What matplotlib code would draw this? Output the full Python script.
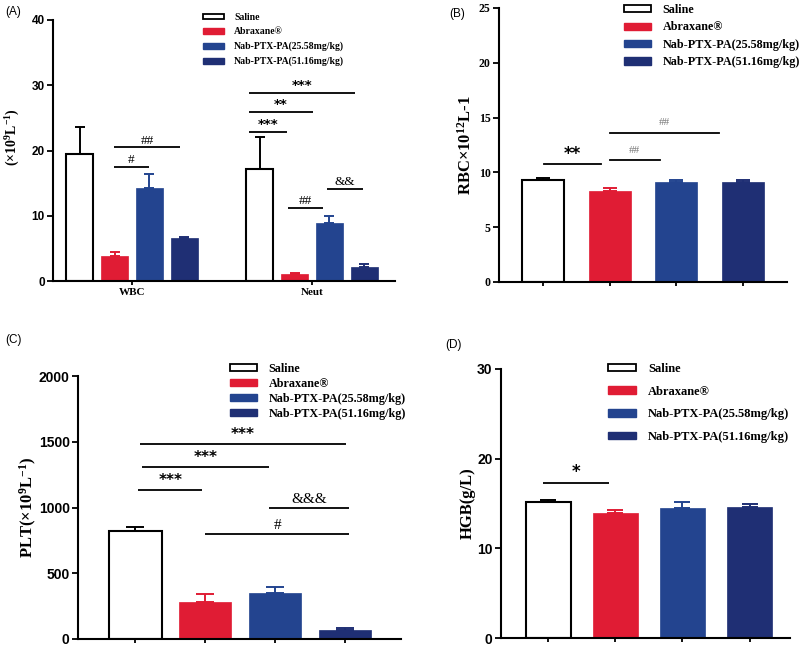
import matplotlib
matplotlib.use("Agg")
import matplotlib.pyplot as plt
from matplotlib.patches import Patch
import numpy as np

plt.rcParams["mathtext.fontset"] = "custom"
plt.rcParams["mathtext.rm"] = "Liberation Serif:bold"
plt.rcParams["mathtext.it"] = "Liberation Serif:bold"
plt.rcParams["mathtext.bf"] = "Liberation Serif:bold"
plt.rcParams["mathtext.default"] = "rm"

# ---------------- data ----------------
groups = ["Saline", "Abraxane®", "Nab-PTX-PA(25.58mg/kg)", "Nab-PTX-PA(51.16mg/kg)"]
colors = ["white", "#e01c34", "#23448f", "#1f2f74"]

# Panel A (WBC, Neut)
a_categories = ["WBC", "Neut"]
a_mean = {"Saline": [19.5, 17.1], "Abraxane®": [3.9, 1.0],
          "Nab-PTX-PA(25.58mg/kg)": [14.2, 8.9], "Nab-PTX-PA(51.16mg/kg)": [6.6, 2.2]}
a_err = {"Saline": [4.1, 4.9], "Abraxane®": [0.5, 0.2],
         "Nab-PTX-PA(25.58mg/kg)": [2.2, 1.0], "Nab-PTX-PA(51.16mg/kg)": [0.2, 0.4]}
a_yticks = [0, 10, 20, 30, 40]
a_sig = [(-0.10, 0.094, 17.5, "#"), (-0.10, 0.267, 20.5, "##"),
         (0.65, 0.861, 22.9, "***"), (0.65, 1.006, 25.9, "**"), (0.65, 1.239, 28.8, "***"),
         (0.867, 1.061, 11.2, "##"), (1.083, 1.283, 14.1, "&&")]

# Panel B (RBC)
b_mean = [9.3, 8.3, 9.15, 9.15]
b_err = [0.2, 0.3, 0.2, 0.2]
b_yticks = [0, 5, 10, 15, 20, 25]
b_sig = [(0.015, 0.87, 10.77, "**"), (1.0, 1.75, 11.1, "##"), (1.0, 2.64, 13.6, "##")]

# Panel C (PLT)
c_mean = [825, 285, 350, 65]
c_err = [25, 55, 48, 20]
c_yticks = [0, 500, 1000, 1500, 2000]
c_sig = [(0.04, 0.96, 1132, "***"), (0.10, 1.91, 1307, "***"), (0.06, 3.01, 1482, "***"),
         (1.91, 3.06, 995, "&&&"), (1.0, 3.06, 798, "#")]

# Panel D (HGB)
d_mean = [15.2, 13.9, 14.5, 14.6]
d_err = [0.2, 0.4, 0.7, 0.3]
d_yticks = [0, 10, 20, 30]
d_sig = [(-0.07, 0.91, 17.3, "*")]

W, H = 800, 647
fig = plt.figure(figsize=(W / 100, H / 100), dpi=100)

SERIF = "Liberation Serif"
SANS = "Liberation Sans"


def add_ax(l, t, r, b):
    return fig.add_axes([l / W, 1 - b / H, (r - l) / W, (b - t) / H])


def style(ax, yticks, tickfont, ticksize):
    for s in ["top", "right"]:
        ax.spines[s].set_visible(False)
    for s in ["left", "bottom"]:
        ax.spines[s].set_linewidth(1.5)
    ax.set_ylim(yticks[0], yticks[-1])
    ax.set_yticks(yticks, labels=[str(v) for v in yticks], fontfamily=tickfont,
                  fontweight="bold", fontsize=ticksize)
    ax.tick_params(axis="y", length=4, width=1.3, pad=2)
    ax.tick_params(axis="x", length=3, width=1.3, pad=2)


def draw_bar(ax, x, h, e, color, width, cap):
    x = np.atleast_1d(x)
    h = np.atleast_1d(h)
    e = np.atleast_1d(e)
    if color == "white":
        ax.bar(x, h, width, color="white", edgecolor="black", linewidth=1.5, zorder=2)
        ec = "black"
    else:
        ax.bar(x, h, width, color=color, edgecolor=color, linewidth=0.5, zorder=2)
        ec = color
    ax.errorbar(x, h, yerr=np.vstack([np.zeros_like(e), e]), fmt="none", ecolor=ec,
                elinewidth=1.4, capsize=cap, capthick=1.4, zorder=1)


def sig(ax, items, font, size, off, color="black", weight="normal", lw=1.3):
    for x1, x2, y, t in items:
        ax.plot([x1, x2], [y, y], color="black", lw=lw, solid_capstyle="butt")
        if "*" in t:
            ax.annotate(t, xy=((x1 + x2) / 2, y), xytext=(0, off), textcoords="offset points",
                        ha="center", va="bottom", fontsize=size, fontweight="bold",
                        family="DejaVu Sans", color=color)
        else:
            ax.annotate(t, xy=((x1 + x2) / 2, y), xytext=(0, off), textcoords="offset points",
                        ha="center", va="bottom", fontsize=size, fontweight=weight,
                        family=font, color=color)


def legend(ax, x, y, size, spacing, hl=2.0, hh=0.7):
    handles = []
    for g, c in zip(groups, colors):
        if c == "white":
            handles.append(Patch(facecolor="white", edgecolor="black", linewidth=1.3, label=g))
        else:
            handles.append(Patch(facecolor=c, edgecolor=c, label=g))
    leg = ax.legend(handles=handles, loc="upper left", bbox_to_anchor=(x / W, 1 - y / H),
                    bbox_transform=fig.transFigure, frameon=False,
                    prop={"family": SERIF, "weight": "bold", "size": size},
                    handlelength=hl, handleheight=hh, labelspacing=spacing,
                    handletextpad=1.0, borderaxespad=0, borderpad=0)
    return leg


def ylab(ax, text, xpix, size, yfrac=0.5):
    ax.set_ylabel(text, fontfamily=SERIF, fontweight="bold", fontsize=size)
    bb = ax.get_position()
    ax.yaxis.set_label_coords((xpix / W - bb.x0) / bb.width, yfrac)


# ---------- Panel A ----------
axA = add_ax(53, 20, 395, 281)
offs = np.array([-1.5, -0.5, 0.5, 1.5]) * 0.194
xa = np.arange(len(a_categories))
for i, g in enumerate(groups):
    draw_bar(axA, xa + offs[i], a_mean[g], a_err[g], colors[i], 0.15, 3.8)
axA.set_xlim(-0.439, 1.461)
axA.set_xticks(xa)
axA.set_xticklabels(a_categories, fontfamily=SERIF, fontweight="bold", fontsize=8)
style(axA, a_yticks, SANS, 8.5)
ylab(axA, "(×10$^{9}$L$^{-1}$)", 22, 10, 0.55)
sig(axA, a_sig, SERIF, 9.5, 0.5)
legend(axA, 203, 13, 7, 0.55, hl=2.2, hh=0.55)
fig.text(5 / W, 1 - 12 / H, "(A)", fontfamily=SANS, fontsize=8.5, va="center")

# ---------- Panel B ----------
axB = add_ax(499, 8, 787, 282)
xb = np.arange(len(groups))
for i in range(len(groups)):
    draw_bar(axB, xb[i], b_mean[i], b_err[i], colors[i], 0.63, 5)
axB.set_xlim(-0.66, 3.66)
axB.set_xticks(xb)
axB.set_xticklabels([])
style(axB, b_yticks, SERIF, 8.5)
ylab(axB, "RBC×10$^{12}$L-1", 475, 12)
for x1, x2, y, t in b_sig:
    axB.plot([x1, x2], [y, y], color="black", lw=1.3)
    if "*" in t:
        axB.annotate(t, xy=((x1 + x2) / 2, y), xytext=(0, 1), textcoords="offset points",
                     ha="center", va="bottom", fontsize=12, fontweight="bold", family="DejaVu Sans")
    else:
        axB.annotate(t, xy=((x1 + x2) / 2, y), xytext=(0, 4), textcoords="offset points",
                     ha="center", va="bottom", fontsize=8, family=SERIF, color="#777777")
legend(axB, 624, 4, 8.7, 0.45, hl=2.2, hh=0.55)
fig.text(449 / W, 1 - 14 / H, "(B)", fontfamily=SANS, fontsize=8.5, va="center")

# ---------- Panel C ----------
axC = add_ax(78, 376, 401, 639)
xc = np.arange(len(groups))
for i in range(len(groups)):
    draw_bar(axC, xc[i], c_mean[i], c_err[i], colors[i], 0.75, 6.5)
axC.set_xlim(-0.82, 3.8)
axC.set_xticks(xc)
axC.set_xticklabels([])
style(axC, c_yticks, SANS, 10)
ylab(axC, "PLT(×10$^{9}$L$^{-1}$)", 39, 12)
sig(axC, c_sig, SERIF, 11, 1.5)
legend(axC, 230, 363, 8.7, 0.25, hl=2.2, hh=0.55)
fig.text(5 / W, 1 - 340 / H, "(C)", fontfamily=SANS, fontsize=8.5, va="center")

# ---------- Panel D ----------
axD = add_ax(501, 369, 790, 638)
xd = np.arange(len(groups))
for i in range(len(groups)):
    draw_bar(axD, xd[i], d_mean[i], d_err[i], colors[i], 0.67, 5.5)
axD.set_xlim(-0.7, 3.6)
axD.set_xticks(xd)
axD.set_xticklabels([])
style(axD, d_yticks, SANS, 10)
ylab(axD, "HGB(g/L)", 476, 12)
sig(axD, d_sig, SERIF, 12, 1)
legend(axD, 608, 363, 9, 0.85, hl=2.2, hh=0.55)
fig.text(445 / W, 1 - 345 / H, "(D)", fontfamily=SANS, fontsize=8.5, va="center")

fig.savefig("out.png", dpi=100)
